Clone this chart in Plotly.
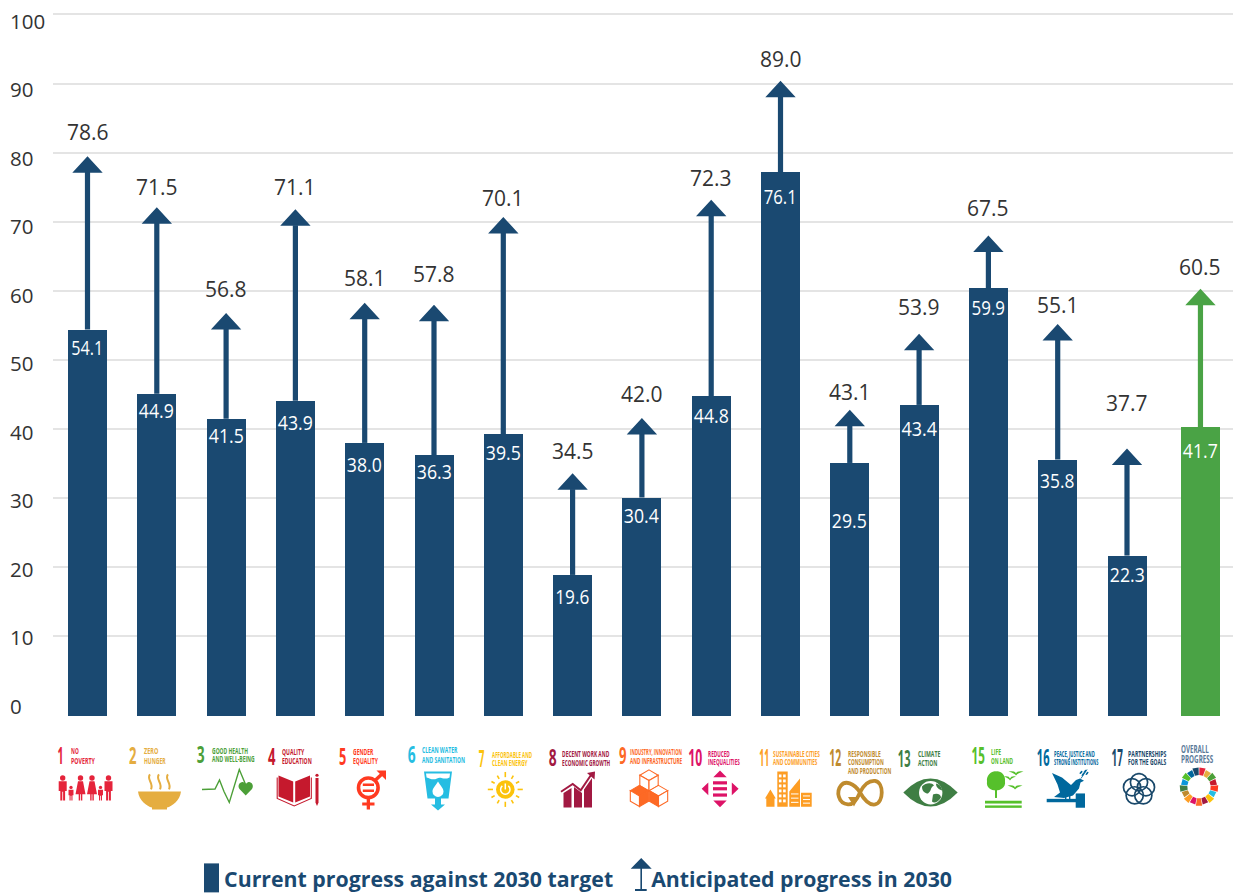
import base64, json, math
import plotly.graph_objects as go

W, H = 1233, 895
L, T, PLOT_BOTTOM = 53, 5, 717.5

# ---- data -------------------------------------------------------------
goals = ["1", "2", "3", "4", "5", "6", "7", "8", "9", "10", "11", "12", "13", "15", "16", "17", "Overall"]
goal_names = [
    ["NO", "POVERTY"], ["ZERO", "HUNGER"], ["GOOD HEALTH", "AND WELL-BEING"], ["QUALITY", "EDUCATION"],
    ["GENDER", "EQUALITY"], ["CLEAN WATER", "AND SANITATION"], ["AFFORDABLE AND", "CLEAN ENERGY"],
    ["DECENT WORK AND", "ECONOMIC GROWTH"], ["INDUSTRY, INNOVATION", "AND INFRASTRUCTURE"],
    ["REDUCED", "INEQUALITIES"], ["SUSTAINABLE CITIES", "AND COMMUNITIES"],
    ["RESPONSIBLE", "CONSUMPTION", "AND PRODUCTION"], ["CLIMATE", "ACTION"], ["LIFE", "ON LAND"],
    ["PEACE, JUSTICE AND", "STRONG INSTITUTIONS"], ["PARTNERSHIPS", "FOR THE GOALS"], ["OVERALL", "PROGRESS"],
]
goal_colors = ["#e5243b", "#e5ad40", "#4c9f38", "#c5192d", "#ff3a21", "#26bde2", "#fcc30b", "#a21942", "#fd6925",
               "#dd1367", "#fd9d24", "#bf8b2e", "#3f7e44", "#56c02b", "#00689d", "#19486a", "#5b7a99"]

# heights as drawn against the gridlines
bar_top = [54.4, 45.1, 41.5, 44.1, 38.0, 36.2, 39.3, 18.9, 30.1, 44.8, 77.2, 35.1, 43.5, 60.4, 35.6, 21.7, 40.3]
arrow_tip = [79.5, 72.1, 56.8, 71.8, 58.3, 58.0, 70.7, 33.6, 41.6, 73.2, 90.4, 42.8, 53.8, 68.0, 55.2, 37.2, 60.3]
# figures printed on the chart
current_label = ["54.1", "44.9", "41.5", "43.9", "38.0", "36.3", "39.5", "19.6", "30.4", "44.8", "76.1", "29.5",
                 "43.4", "59.9", "35.8", "22.3", "41.7"]
anticipated_label = ["78.6", "71.5", "56.8", "71.1", "58.1", "57.8", "70.1", "34.5", "42.0", "72.3", "89.0", "43.1",
                     "53.9", "67.5", "55.1", "37.7", "60.5"]
current_label_y = [51.9, 42.7, 39.2, 41.1, 35.0, 33.9, 36.7, 15.8, 27.5, 42.1, 73.8, 26.8, 40.2, 57.6, 32.6, 19.1, 37.0]
anticipated_label_y = [83.0, 75.1, 60.3, 75.1, 61.9, 62.5, 73.5, 36.8, 45.1, 76.4, 93.6, 45.4, 57.6, 72.0, 57.9, 43.8, 63.4]
y_ticks = [0, 10, 20, 30, 40, 50, 60, 70, 80, 90, 100]

BLUE, GREEN = "#1a4971", "#4aa345"
TEXT = "#333333"
GRID = "#e4e4e4"
SANS = "Open Sans, sans-serif"

# ---- scales ------------------------------------------------------------
Y_PX = 6.915          # pixels per axis unit
Y_ZERO = 706.0        # pixel of axis value 0
X_PX = 69.3           # pixels per slot
X_FIRST = 87.5        # pixel of slot 0
y_range = [(Y_ZERO - PLOT_BOTTOM) / Y_PX, (Y_ZERO - T) / Y_PX]
x_range = [(L - X_FIRST) / X_PX, (W - X_FIRST) / X_PX]
BASE = -1.56
BAR_W = 39 / X_PX
HEAD_H = 16.5 / Y_PX
HEAD_HALF = 15.2 / X_PX
slots = [float(i) for i in range(len(goals))]
slots[-1] += 0.06
colors = [BLUE] * (len(goals) - 1) + [GREEN]


def px(x):
    return (x - L) / (W - L)


def py(y):
    return (PLOT_BOTTOM - y) / (PLOT_BOTTOM - T)


fig = go.Figure()
fig.add_bar(x=slots, y=[t - BASE for t in bar_top], base=BASE, width=BAR_W, marker=dict(color=colors, line_width=0),
            customdata=goals, name="Current progress against 2030 target", hoverinfo="skip")


def arrows(idx, color, name):
    sx, sy, hx, hy = [], [], [], []
    for i in idx:
        s, top, tip = slots[i], bar_top[i], arrow_tip[i]
        sx += [s, s, None]
        sy += [top, tip - HEAD_H + 0.1, None]
        hx += [s - HEAD_HALF, s, s + HEAD_HALF, s - HEAD_HALF, None]
        hy += [tip - HEAD_H, tip, tip - HEAD_H, tip - HEAD_H, None]
    fig.add_scatter(x=sx, y=sy, mode="lines", line=dict(color=color, width=5.2), name=name, hoverinfo="skip")
    fig.add_scatter(x=hx, y=hy, mode="lines", fill="toself", fillcolor=color, line=dict(color=color, width=0),
                    name=name, hoverinfo="skip")


arrows(range(len(goals) - 1), BLUE, "Anticipated progress in 2030")
arrows([len(goals) - 1], GREEN, "Anticipated progress in 2030 (overall)")

ann = []
fit = {}   # annotation index -> [printed width in px, pivot]; no narrow face is installed, so the text is condensed


def add_note(width=None, pivot="c", **kw):
    ann.append(dict(showarrow=False, **kw))
    if width:
        fit[len(ann) - 1] = [width, pivot]


inside_widths = [32, 35, 35, 35, 35, 35, 35, 34, 35, 35, 33, 35, 35.5, 33.5, 34.3, 35, 35]
for i in range(len(goals)):
    add_note(x=slots[i], y=anticipated_label_y[i], text=anticipated_label[i],
             font=dict(family=SANS, size=21, color=TEXT), xanchor="center", yanchor="middle")
    add_note(width=inside_widths[i], x=slots[i], y=current_label_y[i], text=current_label[i],
             font=dict(family=SANS, size=20.5, color="#ffffff"), xanchor="center", yanchor="middle")
for v in y_ticks:
    # the printed scale sits slightly off the gridlines: 0.065 px per unit
    add_note(xref="paper", x=px(8), y=v, yshift=-0.065 * v, text=str(v),
             font=dict(family=SANS, size=20.5, color=TEXT), xanchor="left", yanchor="middle")

# icon captions: goal number pixel x,y ; caption left x ; caption centre lines ; printed widths
num_pos = [(60, 756), (132, 756), (200, 755), (271, 757), (342, 757), (411, 755), (481, 759), (552, 758), (622, 756),
           (695, 758), (764, 758), (835, 758), (904, 759), (978, 756), (1043, 758), (1117, 758)]
num_w = [6, 7.7, 8, 7.7, 7.3, 8, 5.7, 8, 7.7, 14, 10, 12, 12.7, 13.3, 12.7, 11.3]
cap_x = [70, 143, 211, 281, 352, 421, 491, 561, 629, 707, 772, 847, 917, 990, 1053, 1127, 1180]
cap_y = [(751, 760.7), (751, 760.7), (751, 759), (752, 761), (752, 761), (750.5, 760), (754.7, 763), (753.7, 762.7),
         (751.7, 760.7), (753.7, 762), (753.7, 762), (753.7, 762.3, 770.7), (754.3, 763), (751.7, 760.7),
         (754.3, 762.3), (754.3, 762.3), (749.3, 758.7)]
cap_w = [(7.7, 24), (14.3, 22.3), (36, 42.7), (22.3, 29.7), (20.3, 25), (36, 43), (40.3, 35.7), (47.3, 48.3), (52, 52),
         (22, 31.7), (46.7, 44.3), (32.7, 35.7, 43.3), (22.3, 19.3), (10, 22.3), (40.7, 44.3), (38.3, 38.3), (27.7, 32.3)]
for i, name in enumerate(goal_names):
    col = goal_colors[i]
    if i < 16:
        nx, ny = num_pos[i]
        add_note(width=num_w[i], xref="paper", yref="paper", x=px(nx), y=py(ny), text=goals[i],
                 font=dict(family=SANS, size=23, weight=700, color=col), xanchor="center", yanchor="middle")
    for line, ly, lw in zip(name, cap_y[i], cap_w[i]):
        add_note(width=lw, pivot="l", xref="paper", yref="paper", x=px(cap_x[i]), y=py(ly), text=line,
                 font=dict(family=SANS, size=11 if i == 16 else 9.5, weight=700, color=col), xanchor="left",
                 yanchor="middle", borderpad=0)

add_note(width=389, pivot="l", xref="paper", yref="paper", x=px(222), y=py(880),
         text="Current progress against 2030 target", font=dict(family=SANS, size=21, weight=700, color=BLUE),
         xanchor="left", yanchor="middle")
add_note(width=301, pivot="l", xref="paper", yref="paper", x=px(649), y=py(880),
         text="Anticipated progress in 2030", font=dict(family=SANS, size=21, weight=700, color=BLUE),
         xanchor="left", yanchor="middle")


# ---- pictograms, drawn as an SVG layer in page pixels ------------------
def person(cx, scale, c, dress=False):
    b = 801
    h = 778.5 if scale == 1 else 788
    r = 2.7 * scale
    s = f'<circle cx="{cx}" cy="{h}" r="{r}" fill="{c}"/>'
    top = h + r + 0.7
    w = 4.0 * scale
    if dress:
        s += f'<path d="M{cx-2.5},{top} H{cx+2.5} L{cx+5},{top+13} H{cx+1.8} V{b} H{cx+.4} V{top+13} H{cx-.4} V{b} H{cx-1.8} V{top+13} H{cx-5} Z" fill="{c}"/>'
    else:
        s += f'<path d="M{cx-w},{top} H{cx+w} V{top+(b-top)*.5} H{cx+w*.6} V{b} H{cx+.4} V{top+(b-top)*.55} H{cx-.4} V{b} H{cx-w*.6} V{top+(b-top)*.5} H{cx-w} Z" fill="{c}"/>'
    return s


def cube(cx, cy, s, c, fill_top=False, fill_left=False, fill_right=False):
    dx, dy = s * .866, s * .5
    top = f"{cx},{cy-s} {cx+dx},{cy-dy} {cx},{cy} {cx-dx},{cy-dy}"
    left = f"{cx-dx},{cy-dy} {cx},{cy} {cx},{cy+s} {cx-dx},{cy+dy}"
    right = f"{cx+dx},{cy-dy} {cx},{cy} {cx},{cy+s} {cx+dx},{cy+dy}"
    out = ""
    for pts, f in ((top, fill_top), (left, fill_left), (right, fill_right)):
        out += f'<polygon points="{pts}" fill="{c if f else "#fff"}" stroke="{c}" stroke-width="1.1"/>'
    return out


svg = []
# 1 people
c = goal_colors[0]
svg += [person(62.7, 1, c), person(71, .62, c), person(80.5, 1, c, True), person(92, 1, c, True), person(100.5, .62, c), person(108.5, 1, c)]
# 2 bowl
c = goal_colors[1]
svg.append(f'<path d="M138,792 H181 C180,801 172,807 167,808 V810 H152 V808 C147,807 139,801 138,792 Z" fill="{c}"/>')
for x in (150, 159, 168):
    svg.append(f'<path d="M{x},775 C{x-4},780 {x+4},783 {x+1},790" fill="none" stroke="{c}" stroke-width="2"/>')
# 3 heartbeat
c = goal_colors[2]
svg.append(f'<polyline points="202,790 215,789.5 219.5,780.5 224,792 229.3,803 239.3,770 246,786" fill="none" stroke="{c}" stroke-width="1.4"/>')
svg.append(f'<path d="M245.7,796 L239.5,789.5 C237,786 240,782 243,782.5 C244.5,782.8 245.2,784 245.7,785 C246.2,784 247,782.8 248.5,782.5 C251.5,782 254.3,786 252,789.5 Z" fill="{c}"/>')
# 4 book and pencil
c = goal_colors[3]
svg.append(f'<path d="M278.5,776 L293.2,782 V803 L278.5,797 Z M310,776 L295.2,782 V803 L310,797 Z" fill="{c}"/>')
svg.append(f'<polyline points="277.2,778 277.2,799 294.2,806.5 311.3,799 311.3,778" fill="none" stroke="{c}" stroke-width="1.1"/>')
svg.append(f'<path d="M315.5,778.5 H318.5 V803 L317,806.5 L315.5,803 Z" fill="{c}"/><circle cx="317" cy="775.8" r="1.6" fill="{c}"/>')
# 5 gender
c = goal_colors[4]
svg.append(f'<circle cx="368.3" cy="788.3" r="9.8" fill="none" stroke="{c}" stroke-width="3.6"/>')
svg.append(f'<path d="M362.8,784 H374 V786.6 H362.8 Z M362.8,790 H374 V792.6 H362.8 Z M366.7,798 H370 V803 H374.5 V806 H370 V810 H366.7 V806 H362.2 V803 H366.7 Z" fill="{c}"/>')
svg.append(f'<path d="M375,781 L382,774.5" stroke="{c}" stroke-width="3.4"/><path d="M376.5,771 H386 V780.5 Z" fill="{c}"/>')
# 6 water
c = goal_colors[5]
svg.append(f'<path d="M424,772 H452 L448.5,799 H441 V805 H445 L438,811 L431,805 H435 V799 H427.5 Z" fill="{c}"/>')
svg.append('<path d="M426,774 H450 L449.5,778 C444,781 441,777 437,779 C433,781 430,779 426.6,778 Z" fill="#fff"/>')
svg.append('<path d="M438,782 C441,787 443.5,789 443.5,792 A5.5,5.5 0 0 1 432.5,792 C432.5,789 435,787 438,782 Z" fill="#fff"/>')
# 7 sun
c = goal_colors[6]
svg.append(f'<circle cx="505.3" cy="790" r="9.3" fill="{c}"/>')
for k in range(12):
    a = math.radians(k * 30)
    r2 = 17.5 if k % 3 == 0 else 16
    svg.append(f'<line x1="{505.3+12.3*math.cos(a):.2f}" y1="{790+12.3*math.sin(a):.2f}" x2="{505.3+r2*math.cos(a):.2f}" y2="{790+r2*math.sin(a):.2f}" stroke="{c}" stroke-width="1.6"/>')
svg.append('<path d="M502.3,786.5 A4.7,4.7 0 1 0 508.3,786.5" fill="none" stroke="#fff" stroke-width="1.5"/><line x1="505.3" y1="784" x2="505.3" y2="790" stroke="#fff" stroke-width="1.5"/>')
# 8 growth
c = goal_colors[7]
svg.append(f'<path d="M563.5,793.5 L571.5,788.5 V808 H563.5 Z M574,787.5 L582,793.5 V808 H574 Z M584,790 L592,778.5 V808 H584 Z" fill="{c}"/>')
svg.append(f'<polyline points="561,792.3 572.7,784.5 580.7,790.8 591,775.5" fill="none" stroke="{c}" stroke-width="2"/>')
svg.append(f'<path d="M587,773.5 L595,772 L594.5,780 Z" fill="{c}"/>')
# 9 cubes
c = goal_colors[8]
svg.append(cube(649, 781, 10.6, c))
svg.append(cube(639.5, 796.5, 10.6, c, fill_top=True, fill_right=True))
svg.append(cube(658.5, 796.5, 10.6, c, fill_left=True))
# 10 inequalities
c = goal_colors[9]
svg.append(f'<path d="M713.3,777.7 L720,771 L726.7,777.7 Z M713.3,801 L720,807.8 L726.7,801 Z M708.3,783 L701.7,789.3 L708.3,795.7 Z M731.8,783 L738.6,789.3 L731.8,795.7 Z" fill="{c}"/>')
for y in (781.8, 787.7, 794):
    svg.append(f'<rect x="713" y="{y}" width="14" height="3.2" fill="{c}"/>')
# 11 city
c = goal_colors[10]
svg.append(f'<path d="M765,799 L770.4,790 L775.8,799 H774.5 V807.3 H766.3 V799 Z M777.3,772 H787.7 V807.3 H777.3 Z M789.3,792 L800,779 V807.3 H789.3 Z M801,793.3 H811.7 V807.3 H801 Z" fill="{c}"/>')
for r in range(6):
    for q in range(2):
        svg.append(f'<rect x="{778.9+q*4.2:.1f}" y="{775+r*5}" width="2.6" height="2.9" fill="#fff"/>')
for r in range(3):
    svg.append(f'<rect x="{791}" y="{794+r*4.2:.1f}" width="7.5" height="1" fill="#fff"/>')
    svg.append(f'<rect x="{803}" y="{796+r*3.6:.1f}" width="7" height="1" fill="#fff"/>')
# 12 infinity
c = goal_colors[11]
svg.append(f'<path d="M860,793 C854,783 845,781 841,786 C836,792 838,804 848,805 C853,805.5 857,800 860,793 C864,785 869,781 875,781.5 C884,783 884,803 875,805 C869,806 864,800 860,793" fill="none" stroke="{c}" stroke-width="3.8"/>')
svg.append(f'<path d="M848,797.5 H859 L854,807 Z" fill="{c}"/>')
# 13 eye
c = goal_colors[12]
svg.append(f'<path d="M903.3,793 Q930.5,765 957.7,793 Q930.5,821 903.3,793 Z" fill="{c}"/><circle cx="930.7" cy="793.3" r="11.7" fill="#fff"/>')
svg.append(f'<path d="M922,787 C926,783 932,783 934,786 C930,788 932,791 928,794 C925,794 922,792 922,787 Z M933,795 C937,793 941,795 941,798 C938,803 934,804 932,802 Z M936,784 C940,785 942,788 942,791 C939,790 936,788 936,784 Z" fill="{c}"/>')
# 15 tree
c = goal_colors[13]
svg.append(f'<path d="M987,782 C986,775 993,771 996,772 C1000,771 1006,775 1005,782 C1006,788 1000,791 996,791 C991,791 986,788 987,782 Z" fill="{c}"/><rect x="995" y="790" width="2" height="8.5" fill="{c}"/>')
svg.append(f'<rect x="985" y="801.3" width="36.7" height="2.8" fill="{c}"/><rect x="985" y="806" width="36.7" height="2.4" fill="{c}"/>')
for bx, by, w in ((1016, 773, 7.5), (1010, 778, 6), (1015, 787, 7.5)):
    svg.append(f'<path d="M{bx-w},{by-1} Q{bx-1},{by-2} {bx},{by+1} Q{bx+1},{by-2} {bx+w},{by-1} Q{bx+1},{by+1} {bx},{by+3} Q{bx-1},{by+1} {bx-w},{by-1} Z" fill="{c}"/>')
# 16 dove and gavel
c = goal_colors[14]
svg.append(f'<path d="M1052,773.5 L1062,778 L1071,785.5 L1076,780.5 L1080,779 L1084,781.2 L1080.5,783 L1079,789 L1073,796 L1064,798.5 L1054,797.5 L1060,793 L1057.5,785 Z" fill="{c}"/>')
svg.append(f'<path d="M1081,779 L1087,770" stroke="{c}" stroke-width=".9"/>')
for lx, ly in ((1083, 775), (1085, 772), (1087, 774), (1081, 773)):
    svg.append(f'<ellipse cx="{lx}" cy="{ly}" rx="1.9" ry=".9" fill="{c}" transform="rotate(-50 {lx} {ly})"/>')
svg.append(f'<rect x="1046.7" y="799.4" width="30" height="3.4" fill="{c}"/><rect x="1075.7" y="794" width="9.3" height="14.3" fill="{c}"/><rect x="1065" y="797" width="1.4" height="3" fill="{c}"/><rect x="1069" y="796" width="1.4" height="4" fill="{c}"/>')
# 17 rings
c = goal_colors[15]
for k in range(5):
    a = math.radians(-90 + k * 72)
    svg.append(f'<circle cx="{1139+7.3*math.cos(a):.2f}" cy="{790+7.3*math.sin(a):.2f}" r="8.6" fill="none" stroke="{c}" stroke-width="1.7"/>')
# overall wheel
cx, cy, ro, ri = 1199, 787.3, 19.3, 11.7
seg = 360 / 17
for k, col in enumerate(goal_colors[:13] + ["#0a97d9"] + goal_colors[13:16]):
    a0, a1 = math.radians(-90 + k * seg + 1.2), math.radians(-90 + (k + 1) * seg - 1.2)
    rv = ro if k % 2 == 0 else ro - 1.2
    svg.append(f'<path d="M{cx+ri*math.cos(a0):.2f},{cy+ri*math.sin(a0):.2f} L{cx+rv*math.cos(a0):.2f},{cy+rv*math.sin(a0):.2f} '
               f'L{cx+rv*math.cos(a1):.2f},{cy+rv*math.sin(a1):.2f} L{cx+ri*math.cos(a1):.2f},{cy+ri*math.sin(a1):.2f} Z" fill="{col}"/>')
# legend keys
svg.append(f'<rect x="204" y="864" width="15" height="29" fill="{BLUE}"/>')
svg.append(f'<path d="M641.2,858.7 L651.7,869.3 H642 V889.5 H646.7 V891.5 H635 V889.5 H640.4 V869.3 H630.7 Z" fill="{BLUE}"/>')

svg_doc = f'<svg xmlns="http://www.w3.org/2000/svg" width="{W}" height="{H}" viewBox="0 0 {W} {H}">' + "".join(svg) + "</svg>"
icon_src = "data:image/svg+xml;base64," + base64.b64encode(svg_doc.encode()).decode()

fig.update_layout(
    width=W, height=H, margin=dict(l=L, r=0, t=T, b=H - PLOT_BOTTOM, pad=0),
    plot_bgcolor="#ffffff", paper_bgcolor="#ffffff", showlegend=False, bargap=0,
    xaxis=dict(range=x_range, showgrid=False, zeroline=False, showticklabels=False, ticks="", fixedrange=True),
    yaxis=dict(range=y_range, tickvals=y_ticks[1:], showgrid=True, gridcolor=GRID, gridwidth=2, zeroline=False,
               showticklabels=False, ticks="", fixedrange=True),
    annotations=ann,
    images=[dict(source=icon_src, xref="paper", yref="paper", x=px(0), y=py(0), sizex=W / (W - L),
                 sizey=H / (PLOT_BOTTOM - T), xanchor="left", yanchor="top", sizing="stretch", layer="above")],
)

condense = """
document.body.style.margin='0';document.documentElement.style.overflow='hidden';
var FIT=%s;
function condense(){
  var gd=document.getElementById('{plot_id}');
  Object.keys(FIT).forEach(function(i){
    var t=gd.querySelector('g.annotation[data-index="'+i+'"] text');
    if(!t) return;
    var b=t.getBBox(); if(!b.width) return;
    var k=FIT[i][0]/b.width, p=FIT[i][1]==='l'?b.x:b.x+b.width/2;
    t.setAttribute('transform','translate('+p+',0) scale('+k+',1) translate('+(-p)+',0)');
  });
}
condense();[0,100,400].forEach(function(d){setTimeout(condense,d);});
""" % json.dumps(fit)

fig.write_html("out.html", config=dict(displayModeBar=False), post_script=condense)
